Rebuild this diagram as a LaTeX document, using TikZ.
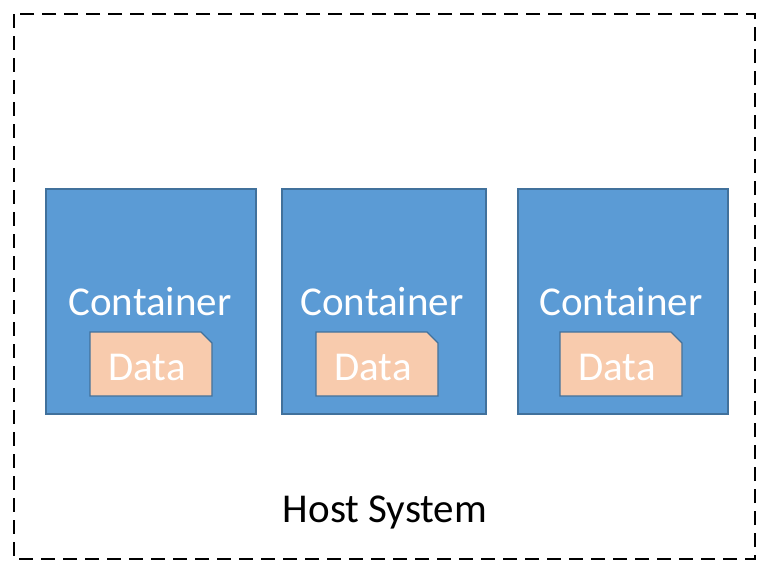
\documentclass[tikz,border=0pt]{standalone}
\usepackage{fontspec}
\setmainfont{Carlito}
\definecolor{contfill}{HTML}{5B9BD5}
\definecolor{contdraw}{HTML}{41719C}
\definecolor{datafill}{HTML}{F8CBAD}
\begin{document}
\begin{tikzpicture}[x=1pt,y=-1pt,
  hostbox/.style={draw=black,line width=1.6pt,dash pattern=on 14pt off 8pt},
  contbox/.style={draw=contdraw,fill=contfill,line width=1.3pt},
  databox/.style={draw=contdraw,fill=datafill,line width=1.3pt,line join=miter},
  lbl/.style={font=\fontsize{41}{45}\selectfont,text=white,inner sep=0pt},
  hostlbl/.style={font=\fontsize{41}{45}\selectfont,text=black,inner sep=0pt}]
\useasboundingbox (0,0) rectangle (768,576);
\draw[hostbox] (14,14) rectangle (755,559);
% containers
\draw[contbox] (46,189) rectangle (256,414);
\draw[contbox] (282,189) rectangle (486,414);
\draw[contbox] (518,189) rectangle (728,414);
\node[lbl] (c1) at (150,302) {Container};
\node[lbl] (c2) at (382,302) {Container};
\node[lbl] (c3) at (621,302) {Container};
% data boxes
\foreach \x in {90,316,560}{
  \draw[databox] (\x,332) -- (\x+111,332) -- (\x+122,343) -- (\x+122,396) -- (\x,396) -- cycle;
}
\node[lbl] (d1) at (147,367) {Data};
\node[lbl] (d2) at (373,367) {Data};
\node[lbl] (d3) at (617,367) {Data};
\node[hostlbl] (host) at (385,512) {Host System};
\end{tikzpicture}
\end{document}
